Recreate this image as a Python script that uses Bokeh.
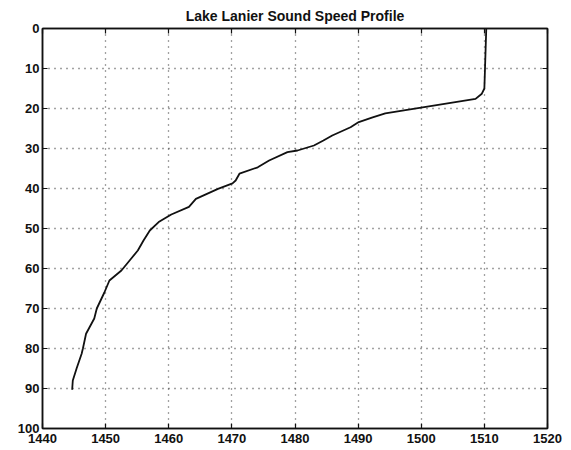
from bokeh.plotting import figure
from bokeh.models import Range1d, LinearAxis, FixedTicker
from bokeh.embed import file_html
from bokeh.resources import INLINE

# Sound speed (m/s) against depth (m), Lake Lanier
speed = [1510.3, 1510.2, 1510.1, 1510.0, 1509.6, 1508.6, 1494.3, 1492.3, 1490.1,
         1488.8, 1485.9, 1484.5, 1483.0, 1480.4, 1478.8, 1475.9, 1474.1, 1471.2,
         1470.6, 1470.1, 1467.8, 1464.3, 1463.2, 1460.4, 1458.4, 1457.0, 1456.0,
         1455.1, 1453.8, 1452.5, 1450.6, 1449.8, 1448.6, 1448.2, 1446.9, 1446.4,
         1446.2, 1445.4, 1444.8, 1444.7]
depth = [0.0, 5.0, 10.0, 15.0, 16.3, 17.6, 21.2, 22.2, 23.4,
         24.7, 26.75, 28.0, 29.25, 30.5, 30.9, 33.0, 34.7, 36.3,
         38.0, 38.7, 40.1, 42.6, 44.6, 46.5, 48.4, 50.5, 53.0,
         55.5, 58.0, 60.5, 63.0, 66.0, 70.0, 72.5, 76.3, 80.0,
         81.3, 85.0, 88.0, 90.3]

x_ticks = [1440, 1450, 1460, 1470, 1480, 1490, 1500, 1510, 1520]
y_ticks = [0, 10, 20, 30, 40, 50, 60, 70, 80, 90, 100]

FONT = "Liberation Sans"
INK = "#111111"

p = figure(width=571, height=450, output_backend="svg", toolbar_location=None,
           x_range=Range1d(1440, 1520), y_range=Range1d(100, 0),
           min_border_left=42, min_border_right=24, min_border_top=28,
           min_border_bottom=22, background_fill_color="white",
           border_fill_color="white")

p.title.text = "Lake Lanier Sound Speed Profile"
p.title.align = "center"
p.title.offset = -12
p.title.text_font = FONT
p.title.text_font_size = "14px"
p.title.text_font_style = "bold"
p.title.text_color = INK

p.outline_line_color = INK
p.outline_line_width = 1.5

def style_axis(ax, show_labels=True):
    ax.major_tick_in = 5
    ax.major_tick_out = 0
    ax.minor_tick_line_color = None
    ax.axis_line_color = INK
    ax.axis_line_width = 1.5
    ax.major_tick_line_color = INK
    ax.major_tick_line_width = 1.2
    ax.major_label_text_font = FONT
    ax.major_label_text_font_style = "bold"
    if show_labels:
        ax.major_label_text_font_size = "13px"
        ax.major_label_text_color = INK
    else:
        # tick marks only on the top and right edges of the box
        ax.major_label_text_font_size = "1px"
        ax.major_label_text_color = None
        ax.major_label_standoff = 0

for ax in p.xaxis:
    ax.ticker = FixedTicker(ticks=x_ticks)
    style_axis(ax)
    ax.major_label_standoff = 5
for ax in p.yaxis:
    ax.ticker = FixedTicker(ticks=y_ticks)
    style_axis(ax)
    ax.major_label_standoff = 3

top_axis = LinearAxis(ticker=FixedTicker(ticks=x_ticks))
style_axis(top_axis, show_labels=False)
p.add_layout(top_axis, "above")

right_axis = LinearAxis(ticker=FixedTicker(ticks=y_ticks))
style_axis(right_axis, show_labels=False)
p.add_layout(right_axis, "right")

for g in (p.xgrid, p.ygrid):
    g.grid_line_color = "#444444"
    g.grid_line_dash = "1 5"
    g.grid_line_width = 1.3
p.xgrid.ticker = FixedTicker(ticks=x_ticks)
p.ygrid.ticker = FixedTicker(ticks=y_ticks)

p.line(speed, depth, line_color=INK, line_width=1.8)

open("out.html", "w").write(file_html(p, INLINE))
